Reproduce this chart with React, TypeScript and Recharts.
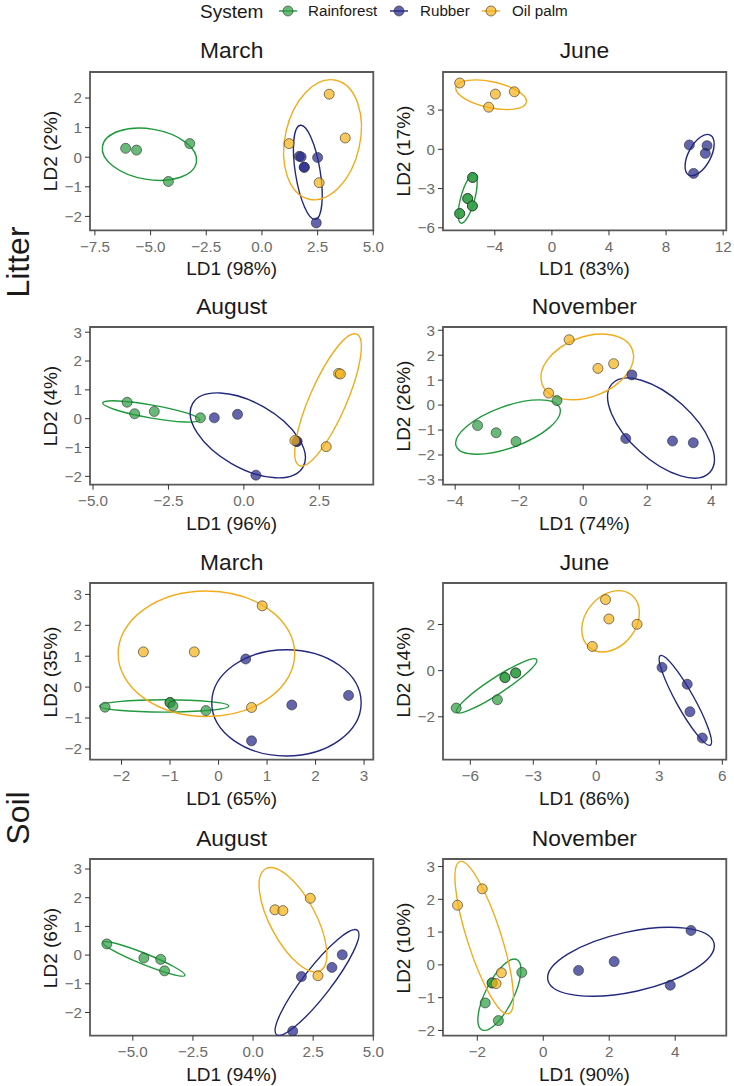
import React from 'react';
import { ScatterChart, Scatter, XAxis, YAxis, ReferenceArea } from 'recharts';

type Pt = [number, number];
// ellipse: centre x, centre y, first semi-axis (ux, uy), second semi-axis (vx, vy), data units
type Ell = [number, number, number, number, number, number];

const systems = ['Rainforest', 'Rubber', 'Oil palm'];
const pointFill = ['#2f9e44', '#262a8c', '#f5b31b'];
const lineColor = ['#1f9a3c', '#23287f', '#f4ab1a'];

// ---- Litter, March
const litterMarchRainforest: Pt[] = [[-6.12, 0.3], [-5.63, 0.24], [-3.24, 0.46], [-4.2, -0.82]];
const litterMarchRubber: Pt[] = [[1.68, 0.03], [1.76, 0.01], [1.9, -0.34], [1.9, -0.34], [2.5, -0.01], [2.44, -2.22]];
const litterMarchOilPalm: Pt[] = [[1.22, 0.46], [3.02, 2.13], [3.74, 0.65], [2.57, -0.86]];
const litterMarchEllipses: Ell[] = [
  [-5.05, 0.1, 2.11, -0.27, -0.19, -0.84],
  [2.06, -0.51, 0.34, -1.59, -0.55, -0.066],
  [2.72, 0.59, 0.6, 2.01, 1.64, -0.275],
];

// ---- Litter, June
const litterJuneRainforest: Pt[] = [[-5.55, -2.15], [-5.55, -2.15], [-5.9, -3.76], [-5.9, -3.76], [-5.57, -4.33], [-5.57, -4.33], [-6.46, -4.91], [-6.46, -4.91]];
const litterJuneRubber: Pt[] = [[9.63, 0.33], [10.87, 0.28], [10.75, -0.31], [9.93, -1.84]];
const litterJuneOilPalm: Pt[] = [[-6.46, 5.07], [-3.96, 4.22], [-2.63, 4.4], [-4.43, 3.22]];
const litterJuneEllipses: Ell[] = [
  [-5.9, -3.76, 0.47, 1.88, 0.47, -0.14],
  [10.35, -0.44, 0.75, 1.53, 0.69, -0.4],
  [-4.26, 4.17, 2.47, -0.575, -0.19, -0.975],
];

// ---- Litter, August
const litterAugustRainforest: Pt[] = [[-3.87, 0.57], [-3.62, 0.17], [-2.97, 0.25], [-1.44, 0.03]];
const litterAugustRubber: Pt[] = [[-0.98, 0.03], [-0.21, 0.15], [1.76, -0.79], [1.76, -0.79], [0.4, -1.96]];
const litterAugustOilPalm: Pt[] = [[1.69, -0.76], [2.73, -0.97], [3.14, 1.57], [3.2, 1.55]];
const litterAugustEllipses: Ell[] = [
  [-3.07, 0.25, 1.61, -0.295, -0.037, -0.222],
  [0.13, -0.58, 1.83, -1.1, -0.54, -0.98],
  [2.79, 0.65, 0.95, 2.28, 0.56, -0.255],
];

// ---- Litter, November
const litterNovemberRainforest: Pt[] = [[-0.82, 0.18], [-3.3, -0.82], [-2.72, -1.11], [-2.1, -1.46]];
const litterNovemberRubber: Pt[] = [[1.52, 1.21], [1.33, -1.34], [2.79, -1.44], [3.44, -1.51]];
const litterNovemberOilPalm: Pt[] = [[-0.44, 2.62], [0.46, 1.47], [0.95, 1.66], [-1.08, 0.48]];
const litterNovemberEllipses: Ell[] = [
  [-2.35, -0.88, 1.62, 0.76, 0.22, -0.78],
  [2.43, -0.92, 1.53, -1.77, -0.66, -0.94],
  [0.125, 1.53, 1.41, 0.69, 0.33, -1.12],
];

// ---- Soil, March
const soilMarchRainforest: Pt[] = [[-2.34, -0.65], [-1.0, -0.5], [-1.0, -0.5], [-0.94, -0.61], [-0.26, -0.76]];
const soilMarchRubber: Pt[] = [[0.56, 0.91], [1.51, -0.58], [2.68, -0.27], [0.68, -1.74]];
const soilMarchOilPalm: Pt[] = [[-1.55, 1.14], [-0.5, 1.14], [0.9, 2.63], [0.68, -0.66]];
const soilMarchEllipses: Ell[] = [
  [-1.12, -0.61, 1.33, 0, 0, 0.2],
  [1.4, -0.51, 1.54, 0, 0, 1.72],
  [-0.25, 1.08, 1.82, 0, 0, 2.03],
];

// ---- Soil, June
const soilJuneRainforest: Pt[] = [[-6.67, -1.62], [-4.71, -1.26], [-4.35, -0.3], [-4.35, -0.3], [-3.84, -0.1], [-3.84, -0.1]];
const soilJuneRubber: Pt[] = [[3.13, 0.14], [4.33, -0.59], [4.46, -1.78], [5.05, -2.92]];
const soilJuneOilPalm: Pt[] = [[0.44, 3.08], [0.6, 2.24], [1.94, 2.01], [-0.19, 1.05]];
const soilJuneEllipses: Ell[] = [
  [-4.75, -0.66, 1.91, 1.14, 0.21, -0.29],
  [4.24, -1.29, 1.19, -1.94, -0.37, -0.19],
  [0.68, 2.14, 1.0, 1.14, 0.94, -0.68],
];

// ---- Soil, August
const soilAugustRainforest: Pt[] = [[-6.08, 0.39], [-4.54, -0.1], [-3.84, -0.15], [-3.68, -0.55]];
const soilAugustRubber: Pt[] = [[1.65, -2.65], [2.01, -0.75], [3.28, -0.43], [3.71, 0.01]];
const soilAugustOilPalm: Pt[] = [[0.91, 1.58], [1.24, 1.55], [2.38, 1.98], [2.7, -0.72]];
const soilAugustEllipses: Ell[] = [
  [-4.54, -0.13, 1.71, -0.58, -0.085, -0.177],
  [2.66, -0.955, 1.68, 1.82, 0.46, -0.3],
  [1.66, 1.23, 1.13, -1.78, -0.84, -0.376],
];

// ---- Soil, November
const soilNovemberRainforest: Pt[] = [[-0.65, -0.23], [-1.55, -0.55], [-1.55, -0.55], [-1.76, -1.16], [-1.36, -1.7]];
const soilNovemberRubber: Pt[] = [[1.07, -0.17], [2.15, 0.1], [3.85, -0.62], [4.48, 1.05]];
const soilNovemberOilPalm: Pt[] = [[-2.6, 1.82], [-1.85, 2.32], [-1.27, -0.24], [-1.43, -0.57]];
const soilNovemberEllipses: Ell[] = [
  [-1.33, -0.91, 0.53, 1.07, 0.38, -0.19],
  [2.66, 0.095, 2.52, 0.56, 0.195, -0.89],
  [-1.79, 0.83, 0.74, -2.32, -0.49, -0.158],
];

// ---- axis ticks
const litterMarchXTicks = [-7.5, -5, -2.5, 0, 2.5, 5];
const litterMarchYTicks = [-2, -1, 0, 1, 2];
const litterJuneXTicks = [-4, 0, 4, 8, 12];
const litterJuneYTicks = [-6, -3, 0, 3];
const litterAugustXTicks = [-5, -2.5, 0, 2.5];
const litterAugustYTicks = [-2, -1, 0, 1, 2, 3];
const litterNovemberXTicks = [-4, -2, 0, 2, 4];
const litterNovemberYTicks = [-3, -2, -1, 0, 1, 2, 3];
const soilMarchXTicks = [-2, -1, 0, 1, 2, 3];
const soilMarchYTicks = [-2, -1, 0, 1, 2, 3];
const soilJuneXTicks = [-6, -3, 0, 3, 6];
const soilJuneYTicks = [-2, 0, 2];
const soilAugustXTicks = [-5, -2.5, 0, 2.5, 5];
const soilAugustYTicks = [-2, -1, 0, 1, 2, 3];
const soilNovemberXTicks = [-2, 0, 2, 4];
const soilNovemberYTicks = [-2, -1, 0, 1, 2, 3];

interface PanelCfg {
  title: string;
  xLabel: string;
  yLabel: string;
  xDomain: [number, number];
  yDomain: [number, number];
  xTicks: number[];
  yTicks: number[];
  xDigits: number;
  points: Pt[][];
  ellipses: Ell[];
}

const panels: PanelCfg[] = [
  { title: 'March', xLabel: 'LD1 (98%)', yLabel: 'LD2 (2%)', xDomain: [-7.72, 5.0], yDomain: [-2.47, 2.88], xTicks: litterMarchXTicks, yTicks: litterMarchYTicks, xDigits: 1, points: [litterMarchRainforest, litterMarchRubber, litterMarchOilPalm], ellipses: litterMarchEllipses },
  { title: 'June', xLabel: 'LD1 (83%)', yLabel: 'LD2 (17%)', xDomain: [-7.63, 12.22], yDomain: [-6.19, 5.91], xTicks: litterJuneXTicks, yTicks: litterJuneYTicks, xDigits: 0, points: [litterJuneRainforest, litterJuneRubber, litterJuneOilPalm], ellipses: litterJuneEllipses },
  { title: 'August', xLabel: 'LD1 (96%)', yLabel: 'LD2 (4%)', xDomain: [-5.1, 4.29], yDomain: [-2.29, 3.18], xTicks: litterAugustXTicks, yTicks: litterAugustYTicks, xDigits: 1, points: [litterAugustRainforest, litterAugustRubber, litterAugustOilPalm], ellipses: litterAugustEllipses },
  { title: 'November', xLabel: 'LD1 (74%)', yLabel: 'LD2 (26%)', xDomain: [-4.38, 4.47], yDomain: [-3.19, 3.13], xTicks: litterNovemberXTicks, yTicks: litterNovemberYTicks, xDigits: 0, points: [litterNovemberRainforest, litterNovemberRubber, litterNovemberOilPalm], ellipses: litterNovemberEllipses },
  { title: 'March', xLabel: 'LD1 (65%)', yLabel: 'LD2 (35%)', xDomain: [-2.65, 3.19], yDomain: [-2.35, 3.37], xTicks: soilMarchXTicks, yTicks: soilMarchYTicks, xDigits: 0, points: [soilMarchRainforest, soilMarchRubber, soilMarchOilPalm], ellipses: soilMarchEllipses },
  { title: 'June', xLabel: 'LD1 (86%)', yLabel: 'LD2 (14%)', xDomain: [-7.3, 6.19], yDomain: [-3.86, 3.8], xTicks: soilJuneXTicks, yTicks: soilJuneYTicks, xDigits: 0, points: [soilJuneRainforest, soilJuneRubber, soilJuneOilPalm], ellipses: soilJuneEllipses },
  { title: 'August', xLabel: 'LD1 (94%)', yLabel: 'LD2 (6%)', xDomain: [-6.78, 5.0], yDomain: [-2.81, 3.35], xTicks: soilAugustXTicks, yTicks: soilAugustYTicks, xDigits: 1, points: [soilAugustRainforest, soilAugustRubber, soilAugustOilPalm], ellipses: soilAugustEllipses },
  { title: 'November', xLabel: 'LD1 (90%)', yLabel: 'LD2 (10%)', xDomain: [-3.04, 5.55], yDomain: [-2.16, 3.23], xTicks: soilNovemberXTicks, yTicks: soilNovemberYTicks, xDigits: 0, points: [soilNovemberRainforest, soilNovemberRubber, soilNovemberOilPalm], ellipses: soilNovemberEllipses },
];

// ---- layout
const FONT = '"Liberation Sans", Arial, Helvetica, sans-serif';
const COL_LEFT = [90, 442.7];
const FRAME_W = 283.3;
const ROW_TOP = [71.7, 327.3, 583.3, 859.3];
const ROW_H = [158.3, 157.7, 176.7, 176.7];
const Y_W = 70;
const X_H = 34;
const PAD = 10;
const RIGHT_PAD = 18;
const TICK_COLOR = '#6b6b6b';

const fmt = (digits: number) => (v: number) => v.toFixed(digits).replace('-', '\u2212');

function Label({ x, y, text, size, rotate, color = '#1a1a1a' }: { x: number; y: number; text: string; size: number; rotate?: boolean; color?: string }) {
  return (
    <div
      style={{
        position: 'absolute',
        left: x,
        top: y,
        transform: `translate(-50%, -50%)${rotate ? ' rotate(180deg)' : ''}`,
        writingMode: rotate ? 'vertical-rl' : undefined,
        fontSize: size,
        lineHeight: `${size}px`,
        whiteSpace: 'nowrap',
        color,
      }}
    >
      {text}
    </div>
  );
}

const ellipseShape = (sx: number, sy: number, color: string) => (props: any) => {
  const { cx, cy } = props;
  const e = props.payload ?? props;
  if (cx == null || cy == null) return <g />;
  const m = [e.ux * sx, -e.uy * sy, e.vx * sx, -e.vy * sy, cx, cy].join(' ');
  return (
    <circle cx={0} cy={0} r={1} transform={`matrix(${m})`} fill="none" stroke={color} strokeWidth={1.4} vectorEffect="non-scaling-stroke" />
  );
};

const dotShape = (fill: string) => (props: any) => {
  if (props.cx == null || props.cy == null) return <g />;
  return <circle cx={props.cx} cy={props.cy} r={5} fill={fill} fillOpacity={0.72} stroke="#2a2a2a" strokeOpacity={0.75} strokeWidth={0.8} />;
};

function Panel({ cfg, left, top, h }: { cfg: PanelCfg; left: number; top: number; h: number }) {
  const w = FRAME_W;
  const sx = w / (cfg.xDomain[1] - cfg.xDomain[0]);
  const sy = h / (cfg.yDomain[1] - cfg.yDomain[0]);
  return (
    <>
      <Label x={left + w / 2} y={top - 21.7} text={cfg.title} size={22.8} />
      <div style={{ position: 'absolute', left: left - Y_W, top: top - PAD }}>
        <ScatterChart width={Y_W + w + RIGHT_PAD} height={PAD + h + X_H} margin={{ top: PAD, right: RIGHT_PAD, bottom: 0, left: 0 }}>
          <XAxis
            type="number"
            dataKey="x"
            domain={cfg.xDomain}
            ticks={cfg.xTicks}
            allowDataOverflow
            interval={0}
            height={X_H}
            axisLine={false}
            tickSize={5}
            tickMargin={6}
            tickLine={{ stroke: '#333' }}
            tick={{ fontSize: 15.2, fill: TICK_COLOR }}
            tickFormatter={fmt(cfg.xDigits)}
          />
          <YAxis
            type="number"
            dataKey="y"
            domain={cfg.yDomain}
            ticks={cfg.yTicks}
            allowDataOverflow
            interval={0}
            width={Y_W}
            axisLine={false}
            tickSize={5}
            tickMargin={3}
            tickLine={{ stroke: '#333' }}
            tick={{ fontSize: 15.2, fill: TICK_COLOR }}
            tickFormatter={fmt(0)}
          />
          {cfg.ellipses.map((e, i) => (
            <Scatter
              key={'e' + i}
              data={[{ x: e[0], y: e[1], ux: e[2], uy: e[3], vx: e[4], vy: e[5] }]}
              shape={ellipseShape(sx, sy, lineColor[i])}
              isAnimationActive={false}
            />
          ))}
          {cfg.points.map((pts, i) => (
            <Scatter
              key={'p' + i}
              name={systems[i]}
              data={pts.map(([x, y]) => ({ x, y }))}
              shape={dotShape(pointFill[i])}
              isAnimationActive={false}
            />
          ))}
          <ReferenceArea
            x1={cfg.xDomain[0]}
            x2={cfg.xDomain[1]}
            y1={cfg.yDomain[0]}
            y2={cfg.yDomain[1]}
            fill="none"
            stroke="#595959"
            strokeWidth={1.8}
          />
        </ScatterChart>
      </div>
      <Label x={left + w / 2} y={top + h + 38.3} text={cfg.xLabel} size={19} />
      <Label x={left - 40} y={top + h / 2} text={cfg.yLabel} size={19} rotate />
    </>
  );
}

function LegendKey({ x, i }: { x: number; i: number }) {
  return (
    <svg style={{ position: 'absolute', left: x - 10, top: 1 }} width={20} height={20}>
      <line x1={1} y1={10} x2={19} y2={10} stroke={lineColor[i]} strokeWidth={1.4} />
      <circle cx={10} cy={10} r={5} fill={pointFill[i]} fillOpacity={0.72} stroke="#2a2a2a" strokeOpacity={0.75} strokeWidth={0.8} />
    </svg>
  );
}

const legendKeyX = [287.5, 399, 491];
const legendTextX = [308, 420, 512];

export default function App() {
  return (
    <div style={{ position: 'absolute', left: 0, top: 0, width: 734, height: 1086, background: '#fff', fontFamily: FONT, overflow: 'hidden' }}>
      <div style={{ position: 'absolute', left: 200, top: 11 - 9.5, fontSize: 19, lineHeight: '19px', color: '#1a1a1a' }}>System</div>
      {systems.map((s, i) => (
        <React.Fragment key={s}>
          <LegendKey x={legendKeyX[i]} i={i} />
          <div style={{ position: 'absolute', left: legendTextX[i], top: 11 - 7.6, fontSize: 15.2, lineHeight: '15.2px', color: '#1a1a1a' }}>{s}</div>
        </React.Fragment>
      ))}
      <Label x={18} y={262} text="Litter" size={32} rotate />
      <Label x={18} y={818} text="Soil" size={32} rotate />
      {panels.map((cfg, k) => (
        <Panel key={k} cfg={cfg} left={COL_LEFT[k % 2]} top={ROW_TOP[Math.floor(k / 2)]} h={ROW_H[Math.floor(k / 2)]} />
      ))}
    </div>
  );
}
